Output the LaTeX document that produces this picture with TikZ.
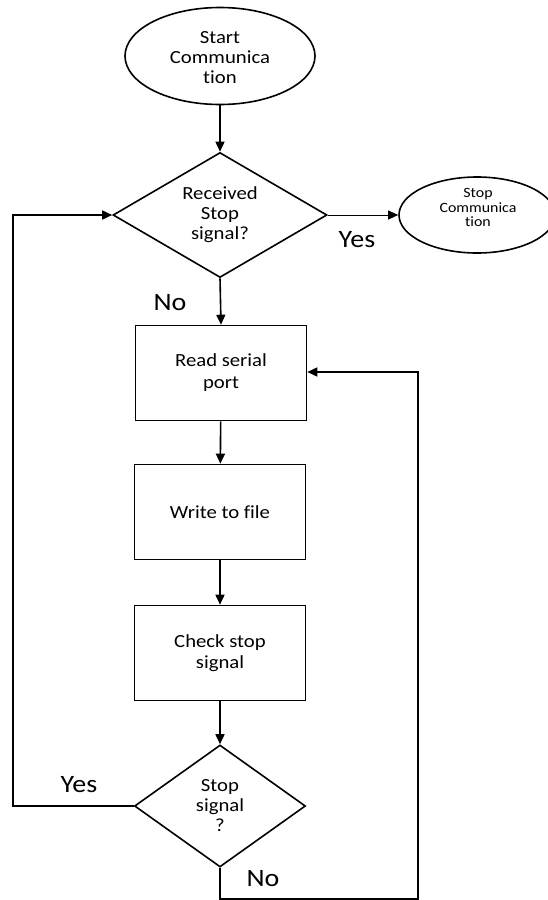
\documentclass[tikz,border=0pt]{standalone}
\usepackage{fontspec}
\setmainfont{Carlito}[FakeStretch=1.12, Ligatures=NoCommon]
\usetikzlibrary{shapes.geometric,arrows.meta}
\begin{document}
\begin{tikzpicture}[x=1pt,y=-1pt,
  every node/.style={inner sep=0pt, align=center, font=\fontsize{18.5}{20}\selectfont},
  term/.style={draw, ellipse, line width=1.6pt},
  procbox/.style={draw, rectangle, line width=1.6pt, minimum width=171pt, minimum height=95pt},
  decide/.style={draw, diamond, line width=1.6pt},
  flow/.style={line width=1.6pt, -{Triangle[length=10pt,width=9pt]}},
  thinflow/.style={line width=0.9pt, -{Triangle[length=10pt,width=9pt]}},
  tag/.style={font=\fontsize{25}{28}\selectfont}]
\useasboundingbox (0,0) rectangle (548,900);
\fill[white] (0,0) rectangle (548,900);

% start terminal
\node[term, minimum width=190pt, minimum height=97pt] (start) at (220,56) {};
\node at (220,57.5) {Start\\Communica\\tion};

% first decision
\node[decide, minimum width=214pt, minimum height=125pt, aspect=1.71] (recv) at (220,215) {Received\\Stop\\signal?};

% stop terminal
\node[term, minimum width=156pt, minimum height=76pt] (stopc) at (477,215) {};
\node[font=\fontsize{14.2}{14.8}\selectfont] at (478,207.5) {Stop\\Communica\\tion};

% process boxes
\node[procbox, font=\fontsize{18.5}{22}\selectfont] (read) at (221,373) {Read serial\\port};
\node[procbox] (write) at (220,512) {Write to file};
\node[procbox, font=\fontsize{18.5}{21}\selectfont] (check) at (220,653) {Check stop\\signal};

% second decision
\node[decide, minimum width=171pt, minimum height=122pt, aspect=1.4] (sig) at (220,806) {Stop\\signal\\?};

% loop corners
\coordinate (lt) at (13,215);
\coordinate (lb) at (13,806);
\coordinate (rb) at (418,899);
\coordinate (rt) at (418,372);
\coordinate (mb) at (220,899);

% connectors
\draw[flow] (start) -- (recv);
\draw[thinflow] (recv.east) -- (stopc.west);
\draw[flow] (recv.south) -- (read.north);
\draw[flow] (read) -- (write);
\draw[flow] (write) -- (check);
\draw[flow] (check) -- (sig);
\draw[flow] (sig.west) -- (lb) -- (lt) -- (recv.west);
\draw[flow] (sig.south) -- (mb) -- (rb) -- (rt) -- (read.east |- rt);

% branch labels
\node[tag] at (357,240) {Yes};
\node[tag] at (170,303) {No};
\node[tag] at (79,785) {Yes};
\node[tag] at (263,879) {No};
\end{tikzpicture}
\end{document}
